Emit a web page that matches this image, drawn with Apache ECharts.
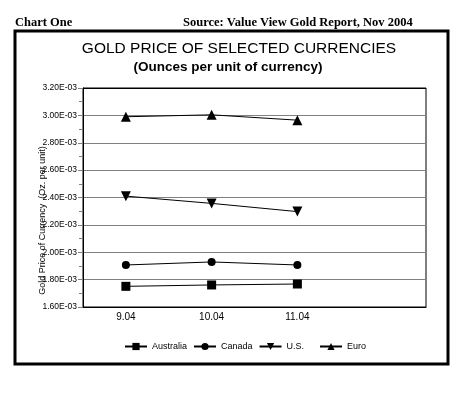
<!DOCTYPE html>
<html><head><meta charset="utf-8">
<script src="https://cdn.jsdelivr.net/npm/echarts@6/dist/echarts.min.js"></script>
<style>html,body{margin:0;padding:0;background:#fff}#c{width:470px;height:394px}</style>
</head><body><div id="c"></div>
<script>
const categories = ['9.04', '10.04', '11.04', ''];
const australia = [1.751e-3, 1.761e-3, 1.768e-3];
const canada = [1.907e-3, 1.929e-3, 1.907e-3];
const us = [2.410e-3, 2.357e-3, 2.297e-3];
const euro = [2.990e-3, 3.004e-3, 2.965e-3];
const yMin = 1.6e-3, yMax = 3.2e-3, yStep = 0.2e-3;

function fmt(v) {
  const s = v.toExponential(2).toUpperCase();
  return s.replace(/E([+-])(\d)$/, 'E$10$2');
}
const font = 'Liberation Sans';
function ser(name, data, symbol, size, rot) {
  return { name, type: 'line', data, symbol, symbolSize: size, symbolRotate: rot || 0,
    showAllSymbol: true,
    lineStyle: { color: '#000', width: 1 }, itemStyle: { color: '#000' } };
}
const chart = echarts.init(document.getElementById('c'));
chart.setOption({
  animation: false,
  backgroundColor: '#fff',
  title: [
    { text: 'GOLD PRICE OF SELECTED CURRENCIES', left: 234, top: 36, textAlign: 'center',
      textStyle: { fontFamily: font, fontSize: 15.5, fontWeight: 'normal', color: '#000' } },
    { text: '(Ounces per unit of currency)', left: 223, top: 55, textAlign: 'center',
      textStyle: { fontFamily: font, fontSize: 13.5, fontWeight: 'bold', color: '#000' } },
    { text: 'Chart One', left: 10, top: 11,
      textStyle: { fontFamily: 'Liberation Serif', fontSize: 12.5, fontWeight: 'bold', color: '#000' } },
    { text: 'Source: Value View Gold Report, Nov 2004', left: 178, top: 11,
      textStyle: { fontFamily: 'Liberation Serif', fontSize: 12.5, fontWeight: 'bold', color: '#000' } }
  ],
  legend: [
    { data: ['Australia', 'Canada', 'U.S.'], left: 119, top: 337, itemWidth: 22, itemHeight: 9, itemGap: 6,
      textStyle: { fontFamily: font, fontSize: 9, color: '#000' } },
    { data: ['Euro'], left: 314, top: 337, itemWidth: 22, itemHeight: 9,
      textStyle: { fontFamily: font, fontSize: 9, color: '#000' } }
  ],
  grid: { left: 83, right: 44, top: 88, bottom: 87, show: true, borderColor: '#000', borderWidth: 1 },
  xAxis: {
    type: 'category', data: categories, boundaryGap: true,
    axisLine: { lineStyle: { color: '#000', width: 1 } },
    axisTick: { alignWithLabel: true, length: 5, lineStyle: { color: '#808080' } },
    axisLabel: { fontFamily: font, fontSize: 10, color: '#000', margin: 5 },
    splitLine: { show: false }
  },
  yAxis: {
    type: 'value', min: yMin, max: yMax, interval: yStep,
    name: 'Gold Price of Currency  (Oz. per unit)', nameLocation: 'middle', nameGap: 36,
    nameMoveOverlap: false,
    nameTextStyle: { fontFamily: font, fontSize: 9, color: '#000', padding: [0, 46, 0, 0] },
    axisLine: { show: true, lineStyle: { color: '#000', width: 1 } },
    axisTick: { show: true, length: 5, lineStyle: { color: '#808080' } },
    minorTick: { show: true, splitNumber: 2, length: 4, lineStyle: { color: '#808080' } },
    axisLabel: { fontFamily: font, fontSize: 8.5, color: '#000', margin: 6, formatter: fmt },
    splitLine: { show: true, lineStyle: { color: ['#808080','#808080','#808080','#808080','#808080','#808080','#808080','#808080','#000'], width: 1 } }
  },
  series: [
    ser('Australia', australia, 'rect', 9),
    ser('Canada', canada, 'circle', 8),
    ser('U.S.', us, 'triangle', 10, 180),
    ser('Euro', euro, 'triangle', 10)
  ],
  graphic: [
    { type: 'rect', shape: { x: 15, y: 31, width: 433, height: 333 }, style: { fill: null, stroke: '#000', lineWidth: 3 }, z: 100 }
  ]
});
</script></body></html>
